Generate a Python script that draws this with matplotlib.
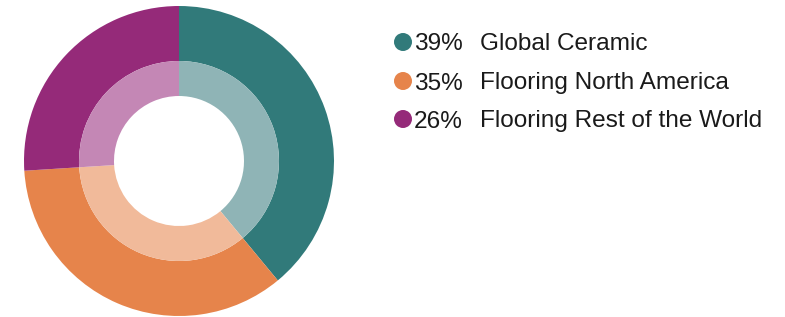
import matplotlib
matplotlib.use("Agg")
import matplotlib.pyplot as plt
from matplotlib.patches import Circle

categories = ["Global Ceramic", "Flooring North America", "Flooring Rest of the World"]
values = [39, 35, 26]
labels = ["39%", "35%", "26%"]
outer_colors = ["#317A7A", "#E6844B", "#952A79"]
inner_colors = ["#8FB4B6", "#F1BA9A", "#C487B5"]

W, H = 785, 317
fig = plt.figure(figsize=(W / 100, H / 100), dpi=100)
cx, cy, R = 179, 156, 155
ax = fig.add_axes([(cx - R) / W, (cy - R) / H, 2 * R / W, 2 * R / H])
ax.set_xlim(-1, 1)
ax.set_ylim(-1, 1)
ax.set_aspect("equal")
ax.axis("off")

r_mid = 100 / 155
r_hole = 65 / 155
ax.pie(values, radius=1, colors=outer_colors, startangle=90, counterclock=False,
       wedgeprops=dict(width=1 - r_mid, linewidth=0), frame=False)
ax.pie(values, radius=r_mid, colors=inner_colors, startangle=90, counterclock=False,
       wedgeprops=dict(width=r_mid - r_hole, linewidth=0), frame=False)
ax.set_xlim(-1, 1)
ax.set_ylim(-1, 1)

ys = [42, 81, 119]
for lab, cat, col, y in zip(labels, categories, outer_colors, ys):
    yy = (H - y) / H
    fig.patches.append(Circle((403, H - y), 9, transform=None,
                              facecolor=col, edgecolor="none"))
    fig.text(414 / W, yy, lab, fontsize=17.6, family="Liberation Sans",
             color="#1a1a1a", va="center_baseline", ha="left")
    fig.text(480 / W, yy, cat, fontsize=17.6, family="Liberation Sans",
             color="#1a1a1a", va="center_baseline", ha="left")

fig.savefig("out.png", dpi=100)
